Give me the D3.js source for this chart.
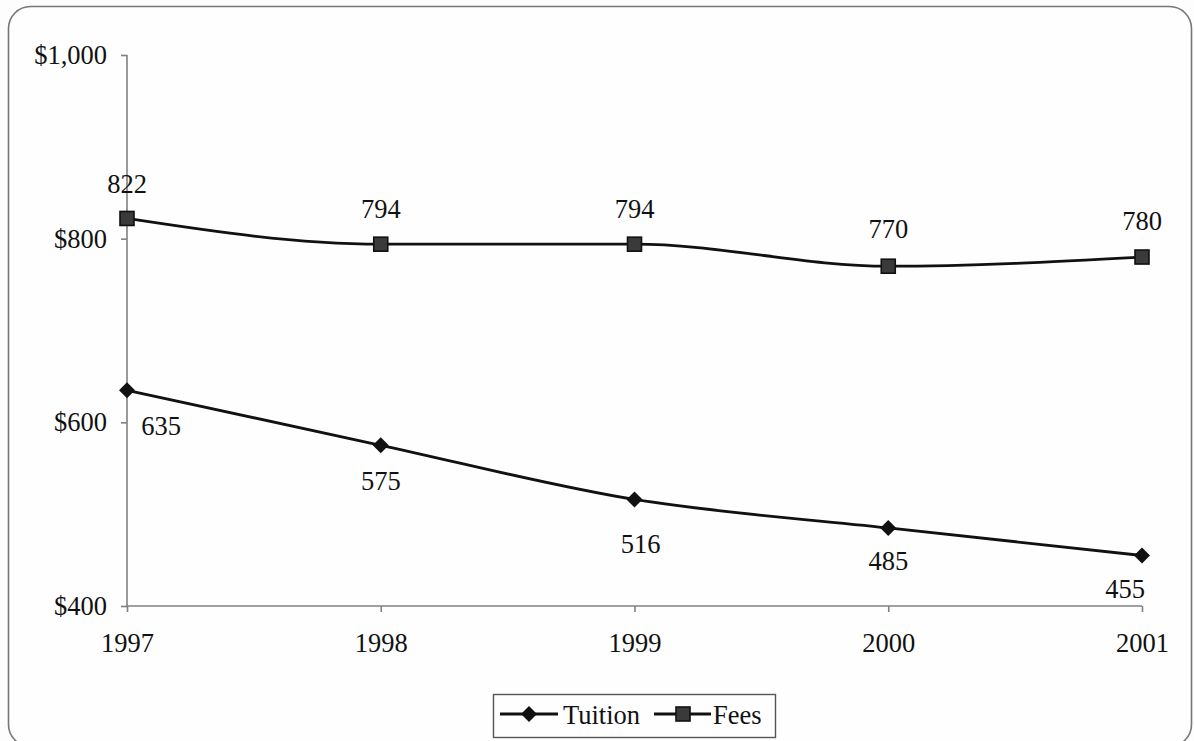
<!DOCTYPE html>
<html>
<head>
<meta charset="utf-8">
<script src="https://cdn.jsdelivr.net/npm/d3@7"></script>
<style>
  html, body { margin: 0; padding: 0; background: #ffffff; }
  svg { display: block; }
  text { font-family: "Liberation Serif", "Times New Roman", serif; fill: #111; }
</style>
</head>
<body>
<svg id="chart" width="1194" height="741"></svg>
<script>
// ---- data ----
const years = ["1997", "1998", "1999", "2000", "2001"];
const tuition = [635, 575, 516, 485, 455];
const fees = [822, 794, 794, 770, 780];
const yTicks = [400, 600, 800, 1000];
const seriesNames = ["Tuition", "Fees"];

// ---- layout ----
const W = 1194, H = 741;
const plot = { left: 127, right: 1142, top: 55, bottom: 606 };
const svg = d3.select("#chart");

svg.append("rect").attr("width", W).attr("height", H).attr("fill", "#fdfdfd");
// outer rounded border
svg.append("rect")
  .attr("x", 8.5).attr("y", 6.5).attr("width", 1183).attr("height", 740)
  .attr("rx", 22).attr("ry", 22)
  .attr("fill", "#fefefe").attr("stroke", "#777").attr("stroke-width", 1.6);

const x = d3.scalePoint().domain(years).range([plot.left, plot.right]);
const y = d3.scaleLinear().domain([400, 1000]).range([plot.bottom, plot.top]);

const fontSize = 26.5;

// y axis
const yAxis = svg.append("g").attr("transform", `translate(${plot.left},0)`)
  .call(d3.axisLeft(y).tickValues(yTicks).tickSize(6).tickSizeOuter(0).tickPadding(14)
    .tickFormat(d => "$" + d3.format(",")(d)));
// x axis
const xAxis = svg.append("g").attr("transform", `translate(0,${plot.bottom})`)
  .call(d3.axisBottom(x).tickSize(6).tickSizeOuter(0).tickPadding(21));
[yAxis, xAxis].forEach(g => {
  g.selectAll("path, line").attr("stroke", "#808080").attr("stroke-width", 1.6);
  g.selectAll("text").style("font-size", fontSize + "px")
    .style("font-family", '"Liberation Serif", "Times New Roman", serif').attr("fill", "#111");
});
xAxis.select("path.domain").attr("d", `M${plot.left},0H${plot.right}`);
yAxis.select("path.domain").attr("d", `M0,${plot.top}V${plot.bottom}`);

const line = d3.line().x((d, i) => x(years[i])).y(d => y(d)).curve(d3.curveMonotoneX);

// series lines
svg.append("path").datum(fees).attr("d", line)
  .attr("fill", "none").attr("stroke", "#111").attr("stroke-width", 2.8);
svg.append("path").datum(tuition).attr("d", line)
  .attr("fill", "none").attr("stroke", "#111").attr("stroke-width", 2.8);

function drawDiamond(g, cx, cy, s) {
  g.append("path").attr("d", `M${cx},${cy - s}L${cx + s},${cy}L${cx},${cy + s}L${cx - s},${cy}Z`)
    .attr("fill", "#111");
}
function drawSquare(g, cx, cy, s) {
  g.append("rect").attr("x", cx - s).attr("y", cy - s).attr("width", 2 * s).attr("height", 2 * s)
    .attr("fill", "#3a3a3a").attr("stroke", "#111").attr("stroke-width", 1.6);
}

const marks = svg.append("g");
tuition.forEach((v, i) => drawDiamond(marks, x(years[i]), y(v), 8));
fees.forEach((v, i) => drawSquare(marks, x(years[i]), y(v), 7));

// data labels (offsets are layout only)
const tuitionLabelOffset = [[34, 45], [0, 45], [6, 54], [0, 42], [-17, 43]];
const feesLabelOffset = [[0, -25], [0, -26], [0, -26], [0, -28], [0, -27]];
const labels = svg.append("g").style("font-size", fontSize + "px").attr("text-anchor", "middle");
tuition.forEach((v, i) => labels.append("text")
  .attr("x", x(years[i]) + tuitionLabelOffset[i][0]).attr("y", y(v) + tuitionLabelOffset[i][1]).text(v));
fees.forEach((v, i) => labels.append("text")
  .attr("x", x(years[i]) + feesLabelOffset[i][0]).attr("y", y(v) + feesLabelOffset[i][1]).text(v));

// legend
const lg = svg.append("g");
lg.append("rect").attr("x", 493.5).attr("y", 694.5).attr("width", 282).attr("height", 43)
  .attr("fill", "#fefefe").attr("stroke", "#555").attr("stroke-width", 1.4);
const ly = 714;
lg.append("line").attr("x1", 500).attr("x2", 558).attr("y1", ly).attr("y2", ly)
  .attr("stroke", "#111").attr("stroke-width", 2.8);
drawDiamond(lg, 529, ly, 8);
lg.append("text").attr("x", 563).attr("y", 724).style("font-size", fontSize + "px").text(seriesNames[0]);
lg.append("line").attr("x1", 654).attr("x2", 711).attr("y1", ly).attr("y2", ly)
  .attr("stroke", "#111").attr("stroke-width", 2.8);
drawSquare(lg, 683, ly, 7);
lg.append("text").attr("x", 713).attr("y", 724).style("font-size", fontSize + "px").text(seriesNames[1]);
</script>
</body>
</html>
